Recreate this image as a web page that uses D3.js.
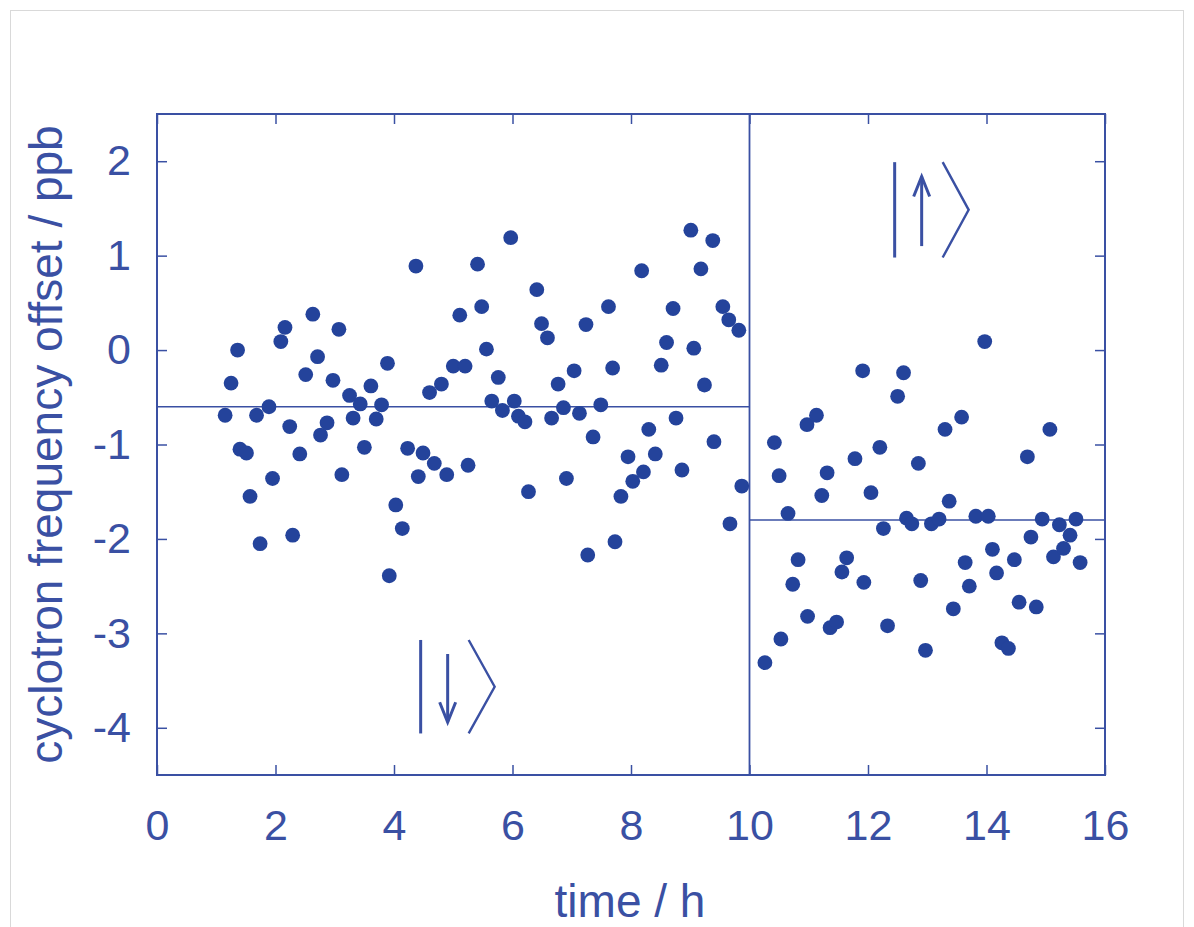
<!DOCTYPE html>
<html>
<head>
<meta charset="utf-8">
<script src="https://cdn.jsdelivr.net/npm/d3@7"></script>
<style>
  html, body { margin: 0; padding: 0; background: #fff; }
  svg { display: block; font-family: "Liberation Sans", Arial, sans-serif; }
</style>
</head>
<body>
<div id="chart"></div>
<script>
// spin-down run (first ~10 h)
const downTime = [1.15,1.25,1.36,1.40,1.51,1.57,1.68,1.74,1.89,1.95,2.09,2.16,2.24,2.29,2.41,2.51,2.63,2.71,2.76,2.87,
  2.97,3.07,3.12,3.25,3.31,3.43,3.50,3.61,3.70,3.79,3.89,3.92,4.03,4.14,4.23,4.37,4.41,4.49,4.60,4.68,
  4.80,4.89,5.00,5.11,5.20,5.25,5.41,5.48,5.56,5.65,5.76,5.83,5.97,6.03,6.10,6.21,6.27,6.41,6.49,6.59,
  6.66,6.77,6.86,6.91,7.04,7.13,7.24,7.27,7.36,7.49,7.62,7.69,7.73,7.83,7.95,8.03,8.18,8.21,8.30,8.41,
  8.51,8.60,8.71,8.76,8.86,9.01,9.06,9.18,9.24,9.38,9.40,9.55,9.65,9.67,9.82,9.87];
const downOffset = [-0.69,-0.35,0.00,-1.05,-1.09,-1.55,-0.69,-2.05,-0.60,-1.36,0.09,0.24,-0.81,-1.96,-1.10,-0.26,0.38,-0.07,-0.90,-0.77,
  -0.32,0.22,-1.32,-0.48,-0.72,-0.57,-1.03,-0.38,-0.73,-0.58,-0.14,-2.39,-1.64,-1.89,-1.04,0.89,-1.34,-1.09,-0.45,-1.20,
  -0.36,-1.32,-0.17,0.37,-0.17,-1.22,0.91,0.46,0.01,-0.54,-0.29,-0.64,1.19,-0.54,-0.70,-0.76,-1.50,0.64,0.28,0.13,
  -0.72,-0.36,-0.61,-1.36,-0.22,-0.67,0.27,-2.17,-0.92,-0.58,0.46,-0.19,-2.03,-1.55,-1.13,-1.39,0.84,-1.29,-0.84,-1.10,
  -0.16,0.08,0.44,-0.72,-1.27,1.27,0.02,0.86,-0.37,1.16,-0.97,0.46,0.32,-1.84,0.21,-1.44];

// spin-up run (10 h to 16 h)
const upTime = [10.26,10.42,10.50,10.53,10.65,10.73,10.82,10.97,10.98,11.13,11.22,11.31,11.36,11.47,11.56,11.64,11.78,11.91,11.93,12.05,
  12.20,12.26,12.33,12.50,12.60,12.65,12.74,12.85,12.89,12.97,13.07,13.20,13.30,13.37,13.44,13.58,13.64,13.71,13.82,13.97,
  14.03,14.10,14.17,14.26,14.37,14.47,14.55,14.69,14.75,14.84,14.94,15.07,15.13,15.23,15.30,15.41,15.51,15.58];
const upOffset = [-3.31,-0.98,-1.33,-3.06,-1.73,-2.48,-2.22,-0.79,-2.82,-0.69,-1.54,-1.30,-2.94,-2.88,-2.35,-2.20,-1.15,-0.22,-2.46,-1.51,
  -1.03,-1.89,-2.92,-0.49,-0.24,-1.78,-1.84,-1.20,-2.44,-3.18,-1.84,-1.79,-0.84,-1.60,-2.74,-0.71,-2.25,-2.50,-1.76,0.09,
  -1.76,-2.11,-2.36,-3.10,-3.16,-2.22,-2.67,-1.13,-1.98,-2.72,-1.79,-0.84,-2.19,-1.85,-2.10,-1.96,-1.79,-2.25];

// mean levels of the two runs
const meanLevels = [{ from: 0, to: 10, value: -0.6 }, { from: 10, to: 16, value: -1.8 }];
const switchTime = 10;

const xTicks = [0, 2, 4, 6, 8, 10, 12, 14, 16];
const yTicks = [2, 1, 0, -1, -2, -3, -4];

// ket labels: [bar time, top offset, bottom offset, arrow direction]
const kets = [
  { t: 4.45, top: -3.07, bottom: -4.06, dir: "down" },
  { t: 12.45, top: 1.99, bottom: 0.98, dir: "up" }
];

const width = 1194, height = 927;
const margin = { top: 114, right: 89, bottom: 152, left: 157 };
const ink = "#3a50a3";
const dotColor = "#24439b";

const svg = d3.select("#chart").append("svg")
  .attr("width", width)
  .attr("height", height);

svg.append("rect").attr("width", width).attr("height", height).attr("fill", "#fff");
// faint outer frame of the figure
svg.append("rect")
  .attr("x", 10.5).attr("y", 10.5)
  .attr("width", 1173).attr("height", 930)
  .attr("fill", "none").attr("stroke", "#d9d9d9");

const x = d3.scaleLinear().domain([0, 16]).range([margin.left, width - margin.right]);
const y = d3.scaleLinear().domain([-4.5, 2.5]).range([height - margin.bottom, margin.top]);

// plain hyphen for negatives, like the original
const plain = d => String(d);

function styleAxis(g) {
  g.select(".domain").remove();
  g.selectAll("line").attr("stroke", ink).attr("stroke-width", 1.5);
  g.selectAll("text").attr("fill", ink).attr("font-size", 43)
    .attr("font-family", "'Liberation Sans', Arial, sans-serif");
}

svg.append("g")
  .attr("transform", `translate(0,${y(-4.5)})`)
  .call(d3.axisBottom(x).tickValues(xTicks).tickSize(-10).tickPadding(34).tickFormat(plain))
  .call(styleAxis);

svg.append("g")
  .attr("transform", `translate(0,${y(2.5)})`)
  .call(d3.axisTop(x).tickValues(xTicks).tickSize(-10).tickFormat(""))
  .call(styleAxis);

svg.append("g")
  .attr("transform", `translate(${x(0)},0)`)
  .call(d3.axisLeft(y).tickValues(yTicks).tickSize(-10).tickPadding(26).tickFormat(plain))
  .call(styleAxis);

svg.append("g")
  .attr("transform", `translate(${x(16)},0)`)
  .call(d3.axisRight(y).tickValues(yTicks).tickSize(-10).tickFormat(""))
  .call(styleAxis);

// plot frame
svg.append("rect")
  .attr("x", x(0)).attr("y", y(2.5))
  .attr("width", x(16) - x(0)).attr("height", y(-4.5) - y(2.5))
  .attr("fill", "none").attr("stroke", ink).attr("stroke-width", 2);

// divider between runs
svg.append("line")
  .attr("x1", x(switchTime)).attr("x2", x(switchTime))
  .attr("y1", y(2.5)).attr("y2", y(-4.5))
  .attr("stroke", ink).attr("stroke-width", 1.8);

svg.append("g").selectAll("line")
  .data(meanLevels)
  .join("line")
  .attr("x1", d => x(d.from)).attr("x2", d => x(d.to))
  .attr("y1", d => y(d.value)).attr("y2", d => y(d.value))
  .attr("stroke", ink).attr("stroke-width", 1.6);

const points = downTime.map((t, i) => ({ t, v: downOffset[i] }))
  .concat(upTime.map((t, i) => ({ t, v: upOffset[i] })));

svg.append("g").selectAll("circle")
  .data(points)
  .join("circle")
  .attr("cx", d => x(d.t))
  .attr("cy", d => y(d.v))
  .attr("r", 7.4)
  .attr("fill", dotColor);

// |down> and |up> kets
const ketG = svg.append("g").attr("fill", "none").attr("stroke", ink)
  .attr("stroke-width", 3).attr("stroke-linecap", "butt");

kets.forEach(k => {
  const bx = x(k.t), top = y(k.top), bot = y(k.bottom);
  const h = bot - top;
  ketG.append("line").attr("x1", bx).attr("x2", bx).attr("y1", top).attr("y2", bot);
  const ax = bx + 27;
  const a0 = top + h * 0.15, a1 = bot - h * 0.12;
  if (k.dir === "down") {
    ketG.append("line").attr("x1", ax).attr("x2", ax).attr("y1", a0).attr("y2", a1);
    ketG.append("path").attr("d", `M${ax - 8},${a1 - 20}L${ax},${a1}L${ax + 8},${a1 - 20}`);
  } else {
    ketG.append("line").attr("x1", ax).attr("x2", ax).attr("y1", a1).attr("y2", a0);
    ketG.append("path").attr("d", `M${ax - 8},${a0 + 20}L${ax},${a0}L${ax + 8},${a0 + 20}`);
  }
  ketG.append("path")
    .attr("stroke-width", 2.4)
    .attr("d", `M${bx + 48},${top}L${bx + 74},${top + h / 2}L${bx + 48},${bot}`);
});

svg.append("text")
  .attr("x", (x(0) + x(16)) / 2 - 1)
  .attr("y", 917)
  .attr("text-anchor", "middle")
  .attr("font-size", 46)
  .attr("fill", ink)
  .text("time / h");

svg.append("text")
  .attr("transform", `translate(62,${(y(2.5) + y(-4.5)) / 2}) rotate(-90)`)
  .attr("text-anchor", "middle")
  .attr("font-size", 46)
  .attr("fill", ink)
  .text("cyclotron frequency offset / ppb");
</script>
</body>
</html>
